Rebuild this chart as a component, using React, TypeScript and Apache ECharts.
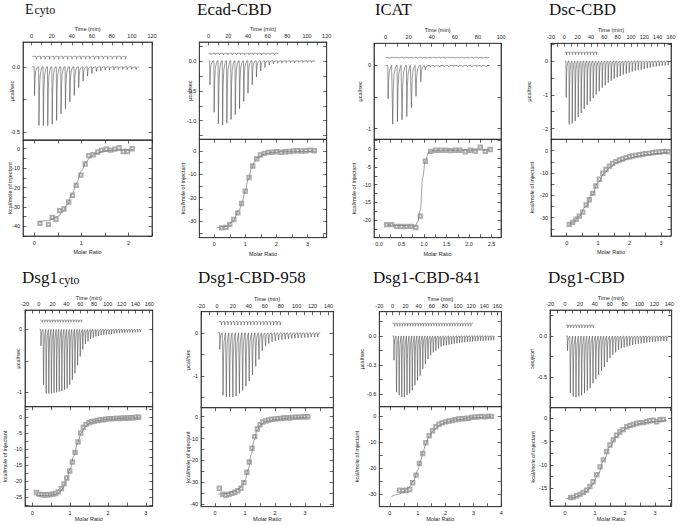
import React, { useEffect, useRef } from 'react';
import * as echarts from 'echarts';

// ================= DATA =================
// ---- Ecyto ----
const ecytoRun = [0.5, 107];
const ecytoTimes = [2.6, 7.0, 11.4, 15.8, 20.2, 24.6, 29.0, 33.4, 37.8, 42.2, 46.6, 51.0, 55.4, 59.8, 64.2, 68.6, 73.0, 77.4, 81.8, 86.2, 90.6, 95.0, 99.4, 103.8];
const ecytoPeaks = [-0.22, -0.45, -0.45, -0.45, -0.44, -0.41, -0.36, -0.32, -0.27, -0.22, -0.16, -0.11, -0.07, -0.05, -0.035, -0.03, -0.025, -0.025, -0.025, -0.02, -0.02, -0.02, -0.02, -0.02];
const ecytoCtrlRun = [0.7, 95.6];
const ecytoCtrlLevel = 0.08;
const ecytoCtrlDepth = -0.022;
const ecytoCtrlTimes = [4.3, 8.8, 13.2, 17.7, 22.1, 26.6, 31.0, 35.5, 39.9, 44.4, 48.8, 53.3, 57.7, 62.2, 66.6, 71.1, 75.5, 80.0, 84.4, 88.9, 93.3];
const ecytoRatio = [0.12, 0.30, 0.38, 0.46, 0.54, 0.63, 0.73, 0.81, 0.89, 0.99, 1.08, 1.16, 1.25, 1.35, 1.43, 1.53, 1.62, 1.71, 1.80, 1.89, 1.98, 2.08];
const ecytoHeat = [-38.5, -39.0, -35.4, -36.4, -31.9, -31.1, -27.5, -24.0, -18.9, -13.6, -7.9, -3.6, -3.1, -1.7, -0.7, -0.3, -0.7, -0.2, 0.5, -1.4, -1.4, 0.0];
const ecytoFitX = [0.1, 0.3, 0.5, 0.6, 0.7, 0.8, 0.9, 1.0, 1.1, 1.2, 1.3, 1.5, 1.7, 2.1];
const ecytoFitY = [-37.6, -37.0, -35.0, -32.6, -28.8, -23.5, -17.5, -11.5, -6.8, -4.0, -2.5, -1.2, -0.8, -0.5];
const ecytoTimeLabels = [0, 20, 40, 60, 80, 100, 120];
const ecytoPowerLabels = [0, -0.5];
const ecytoHeatLabels = [0, -10, -20, -30, -40];
const ecytoRatioLabels = [0, 1, 2];

// ---- Ecad-CBD ----
const ecadRun = [0, 106.6];
const ecadTimes = [1.0, 5.3, 9.6, 13.9, 18.2, 22.5, 26.8, 31.1, 35.4, 39.7, 44.0, 48.3, 52.6, 56.9, 61.2, 65.5, 69.8, 74.1, 78.4, 82.7, 87.0, 91.3, 95.6, 99.9, 104.2];
const ecadPeaks = [-0.40, -0.86, -1.05, -1.07, -1.04, -0.98, -0.9, -0.8, -0.68, -0.54, -0.4, -0.27, -0.17, -0.11, -0.07, -0.05, -0.04, -0.035, -0.03, -0.03, -0.03, -0.025, -0.025, -0.025, -0.025];
const ecadCtrlRun = [0, 71];
const ecadCtrlLevel = 0.127;
const ecadCtrlDepth = -0.025;
const ecadCtrlTimes = [2.0, 6.3, 10.6, 14.9, 19.2, 23.5, 27.8, 32.1, 36.4, 40.7, 45.0, 49.3, 53.6, 57.9, 62.2, 66.5];
const ecadRatio = [0.24, 0.38, 0.5, 0.63, 0.76, 0.88, 1.0, 1.12, 1.24, 1.37, 1.49, 1.61, 1.74, 1.87, 2.01, 2.15, 2.29, 2.42, 2.55, 2.68, 2.82, 2.95, 3.09, 3.22];
const ecadHeat = [-32.9, -32.7, -31.4, -29.3, -26.5, -22.5, -17.2, -11.4, -6.5, -3.4, -1.8, -1.1, -0.7, -0.6, -0.4, -0.6, -0.4, -0.3, -0.1, 0.0, -0.1, 0.0, 0.3, 0.0];
const ecadFitX = [0.08, 0.4, 0.6, 0.8, 0.9, 1.0, 1.1, 1.2, 1.3, 1.4, 1.6, 1.8, 2.2, 3.25];
const ecadFitY = [-32.9, -32.3, -30.0, -25.5, -21.8, -17.0, -12.0, -7.6, -4.6, -2.9, -1.4, -0.8, -0.4, -0.2];
const ecadTimeLabels = [0, 20, 40, 60, 80, 100, 120];
const ecadPowerLabels = [0, -0.5, -1.0];
const ecadHeatLabels = [0, -10, -20, -30];
const ecadRatioLabels = [0, 1, 2, 3];

// ---- ICAT ----
const icatRun = [0, 88];
const icatTimes = [1.9, 5.9, 10.0, 14.0, 18.1, 22.1, 26.1, 30.2, 34.2, 38.3, 42.3, 46.3, 50.4, 54.4, 58.5, 62.5, 66.5, 70.6, 74.6, 78.7, 82.7, 86.7];
const icatPeaks = [-0.53, -0.93, -0.89, -0.86, -0.81, -0.67, -0.49, -0.26, -0.07, -0.03, -0.025, -0.025, -0.02, -0.02, -0.02, -0.02, -0.02, -0.02, -0.02, -0.02, -0.02, -0.02];
const icatCtrlRun = [0, 90];
const icatCtrlLevel = 0.127;
const icatCtrlDepth = -0.015;
const icatCtrlTimes = [3.0, 7.0, 11.1, 15.1, 19.2, 23.2, 27.2, 31.3, 35.3, 39.4, 43.4, 47.4, 51.5, 55.5, 59.6, 63.6, 67.6, 71.7, 75.7, 79.8, 83.8, 87.8];
const icatRatio = [0.17, 0.28, 0.39, 0.50, 0.61, 0.72, 0.82, 0.92, 1.03, 1.15, 1.26, 1.37, 1.48, 1.59, 1.70, 1.80, 1.92, 2.03, 2.14, 2.25, 2.36, 2.47];
const icatHeat = [-21.3, -21.3, -21.8, -21.8, -21.8, -21.8, -22.1, -18.9, -3.4, -0.6, -0.3, -0.3, -0.3, -0.4, -0.3, -0.3, -0.7, -0.3, -0.5, 0.6, -0.6, -0.1];
const icatFitX = [0.17, 0.7, 0.8, 0.86, 0.92, 0.97, 1.03, 1.1, 1.2, 1.5, 2.47];
const icatFitY = [-21.4, -21.6, -21.8, -20.5, -17.0, -8.0, -3.3, -0.9, -0.4, -0.3, -0.2];
const icatTimeLabels = [0, 20, 40, 60, 80, 100];
const icatPowerLabels = [0, -1];
const icatHeatLabels = [0, -5, -10, -15, -20];
const icatRatioLabels = [0, 0.5, 1.0, 1.5, 2.0, 2.5];

// ---- Dsc-CBD ----
const dscRun = [1, 157.5];
const dscTimes = [2.5, 7.0, 11.5, 16.0, 20.5, 25.0, 29.5, 34.0, 38.5, 43.0, 47.5, 52.0, 56.5, 61.0, 65.5, 70.0, 74.5, 79.0, 83.5, 88.0, 92.5, 97.0, 101.5, 106.0, 110.5, 115.0, 119.5, 124.0, 128.5, 133.0, 137.5, 142.0, 146.5, 151.0, 155.5];
const dscPeaks = [-1.08, -1.88, -1.85, -1.78, -1.66, -1.54, -1.42, -1.30, -1.2, -1.09, -0.99, -0.89, -0.79, -0.72, -0.64, -0.58, -0.52, -0.48, -0.44, -0.4, -0.37, -0.34, -0.31, -0.28, -0.26, -0.25, -0.23, -0.21, -0.19, -0.17, -0.16, -0.15, -0.14, -0.13, -0.12];
const dscCtrlRun = [1, 51];
const dscCtrlLevel = 0.27;
const dscCtrlDepth = -0.08;
const dscCtrlTimes = [3.0, 7.5, 12.0, 16.5, 21.0, 25.5, 30.0, 34.5, 39.0, 43.5, 48.0];
const dscRatio = [0.08, 0.19, 0.3, 0.4, 0.51, 0.62, 0.72, 0.83, 0.93, 1.04, 1.15, 1.25, 1.36, 1.46, 1.57, 1.68, 1.78, 1.89, 2.0, 2.1, 2.2, 2.31, 2.42, 2.52, 2.63, 2.74, 2.84, 2.95, 3.05, 3.16, 3.24];
const dscHeat = [-33.0, -32.1, -30.7, -29.3, -27.5, -24.3, -22.0, -19.1, -15.8, -12.8, -10.1, -8.4, -6.9, -5.7, -4.9, -4.2, -3.7, -3.1, -2.7, -2.4, -2.1, -1.8, -1.6, -1.3, -1.2, -0.9, -0.7, -0.6, -0.4, -0.3, -0.5];
const dscFitX = [0.08, 0.2, 0.4, 0.6, 0.8, 1.0, 1.2, 1.4, 1.6, 1.8, 2.0, 2.2, 2.5, 2.8, 3.24];
const dscFitY = [-33.2, -32.0, -29.4, -25.0, -19.8, -14.2, -10.0, -7.2, -5.4, -4.2, -3.3, -2.6, -1.9, -1.3, -0.7];
const dscTimeLabels = [-20, 0, 20, 40, 60, 80, 100, 120, 140, 160];
const dscPowerLabels = [0, -1, -2];
const dscHeatLabels = [0, -10, -20, -30];
const dscRatioLabels = [0, 1, 2, 3];

// ---- Dsg1cyto ----
const dsgRun = [1, 150];
const dsgTimes = [2.8, 6.6, 10.4, 14.2, 18.0, 21.8, 25.5, 29.3, 33.1, 36.9, 40.7, 44.5, 48.3, 52.1, 55.9, 59.7, 63.4, 67.2, 71.0, 74.8, 78.6, 82.4, 86.2, 90.0, 93.8, 97.6, 101.3, 105.1, 108.9, 112.7, 116.5, 120.3, 124.1, 127.9, 131.7, 135.5, 139.2, 143.0, 146.8];
const dsgPeaks = [-0.26, -0.88, -1.02, -1.02, -1.02, -1.01, -1.0, -0.99, -0.98, -0.96, -0.94, -0.88, -0.8, -0.7, -0.57, -0.43, -0.32, -0.23, -0.19, -0.15, -0.13, -0.11, -0.1, -0.09, -0.085, -0.08, -0.075, -0.07, -0.065, -0.06, -0.06, -0.055, -0.055, -0.05, -0.05, -0.05, -0.045, -0.045, -0.045];
const dsgCtrlRun = [2.4, 63];
const dsgCtrlLevel = 0.15;
const dsgCtrlDepth = -0.035;
const dsgCtrlTimes = [4.5, 8.3, 12.1, 15.9, 19.7, 23.5, 27.3, 31.1, 34.9, 38.7, 42.5, 46.3, 50.1, 53.9, 57.7, 61.5];
const dsgRatio = [0.11, 0.18, 0.26, 0.33, 0.40, 0.48, 0.55, 0.62, 0.69, 0.77, 0.84, 0.91, 0.99, 1.06, 1.13, 1.21, 1.28, 1.35, 1.42, 1.50, 1.57, 1.64, 1.72, 1.79, 1.86, 1.93, 2.01, 2.08, 2.15, 2.23, 2.30, 2.37, 2.45, 2.52, 2.59, 2.66, 2.74, 2.81];
const dsgHeat = [-23.5, -24.0, -24.2, -24.3, -24.2, -24.1, -24.0, -23.8, -23.3, -22.3, -20.8, -19.0, -16.8, -14.0, -11.0, -7.8, -5.0, -3.2, -2.3, -1.8, -1.5, -1.3, -1.1, -0.9, -0.9, -0.7, -0.6, -0.5, -0.5, -0.4, -0.5, -0.3, -0.4, -0.3, -0.2, -0.3, -0.1, -0.1];
const dsgFitX = [0.1, 0.4, 0.6, 0.7, 0.8, 0.9, 1.0, 1.1, 1.2, 1.3, 1.4, 1.5, 1.7, 2.0, 2.4, 2.85];
const dsgFitY = [-24.5, -24.4, -24.1, -23.6, -22.3, -19.8, -16.3, -12.0, -8.0, -4.8, -3.0, -2.0, -1.2, -0.7, -0.4, -0.2];
const dsgTimeLabels = [-20, 0, 20, 40, 60, 80, 100, 120, 140, 160];
const dsgPowerLabels = [0, -1];
const dsgHeatLabels = [0, -5, -10, -15, -20, -25];
const dsgRatioLabels = [0, 1, 2, 3];

// ---- Dsg1-CBD-958 ----
const d958Run = [1, 130];
const d958Times = [3.3, 7.4, 11.5, 15.6, 19.7, 23.8, 27.9, 32.0, 36.1, 40.2, 44.3, 48.4, 52.5, 56.6, 60.7, 64.8, 68.9, 73.0, 77.1, 81.2, 85.3, 89.4, 93.5, 97.6, 101.7, 105.8, 109.9, 114.0, 118.1, 122.2, 126.3];
const d958Peaks = [-0.39, -1.45, -1.49, -1.49, -1.49, -1.47, -1.41, -1.34, -1.24, -1.12, -0.98, -0.78, -0.62, -0.42, -0.31, -0.25, -0.21, -0.19, -0.17, -0.16, -0.15, -0.14, -0.13, -0.13, -0.12, -0.12, -0.11, -0.11, -0.1, -0.1, -0.1];
const d958CtrlRun = [2, 81];
const d958CtrlLevel = 0.26;
const d958CtrlDepth = -0.08;
const d958CtrlTimes = [5.3, 9.4, 13.5, 17.6, 21.7, 25.8, 29.9, 34.0, 38.1, 42.2, 46.3, 50.4, 54.5, 58.6, 62.7, 66.8, 70.9, 75.0, 79.1];
const d958Ratio = [0.14, 0.26, 0.36, 0.46, 0.56, 0.66, 0.76, 0.86, 0.96, 1.06, 1.14, 1.23, 1.32, 1.41, 1.5, 1.59, 1.69, 1.79, 1.89, 1.99, 2.09, 2.19, 2.29, 2.39, 2.49, 2.59, 2.69, 2.79, 2.89, 2.99, 3.09];
const d958Heat = [-32.7, -35.4, -35.9, -35.4, -35.0, -34.5, -33.8, -32.7, -30.1, -25.4, -20.7, -14.4, -9.1, -5.6, -3.7, -2.4, -2.0, -1.5, -1.2, -1.1, -0.9, -0.8, -0.6, -0.5, -0.6, -0.3, -0.2, -0.2, -0.2, 0.0, 0.0];
const d958FitX = [0.1, 0.4, 0.6, 0.8, 0.9, 1.0, 1.1, 1.2, 1.3, 1.4, 1.5, 1.7, 2.0, 2.5, 3.1];
const d958FitY = [-35.4, -35.1, -34.4, -33.0, -31.4, -28.8, -24.3, -17.5, -10.8, -6.2, -3.8, -2.2, -1.3, -0.6, -0.2];
const d958TimeLabels = [-20, 0, 20, 40, 60, 80, 100, 120, 140];
const d958PowerLabels = [0, -1];
const d958HeatLabels = [0, -10, -20, -30, -40];
const d958RatioLabels = [0, 1, 2, 3];

// ---- Dsg1-CBD-841 ----
const d841Run = [0, 157];
const d841Times = [2, 6, 10, 14, 18, 22, 26, 30, 34, 38, 42, 46, 50, 54, 58, 62, 66, 70, 74, 78, 82, 86, 90, 94, 98, 102, 106, 110, 114, 118, 122, 126, 130, 134, 138, 142, 146, 150, 154];
const d841Peaks = [-0.25, -0.58, -0.61, -0.63, -0.63, -0.61, -0.59, -0.56, -0.51, -0.46, -0.41, -0.34, -0.29, -0.24, -0.2, -0.17, -0.15, -0.13, -0.11, -0.1, -0.095, -0.09, -0.085, -0.08, -0.075, -0.07, -0.068, -0.065, -0.062, -0.06, -0.058, -0.055, -0.053, -0.05, -0.05, -0.048, -0.046, -0.045, -0.044];
const d841CtrlRun = [0, 123];
const d841CtrlLevel = 0.13;
const d841CtrlDepth = -0.03;
const d841CtrlTimes = [3, 7, 11, 15, 19, 23, 27, 31, 35, 39, 43, 47, 51, 55, 59, 63, 67, 71, 75, 79, 83, 87, 91, 95, 99, 103, 107, 111, 115, 119];
const d841Ratio = [0.35, 0.47, 0.59, 0.71, 0.82, 0.94, 1.06, 1.18, 1.29, 1.41, 1.53, 1.65, 1.76, 1.88, 2.0, 2.12, 2.24, 2.35, 2.47, 2.59, 2.71, 2.82, 2.94, 3.06, 3.18, 3.29, 3.41, 3.53, 3.65];
const d841Heat = [-28.4, -28.6, -28.4, -28.1, -25.5, -22.6, -18.1, -14.3, -10.2, -7.5, -5.6, -4.1, -3.1, -2.6, -2.2, -1.9, -1.7, -1.4, -1.1, -1.0, -0.9, -0.8, -0.5, -0.4, -0.3, -0.1, -0.3, -0.1, -0.1];
const d841FitX = [0.05, 0.3, 0.5, 0.7, 0.85, 1.0, 1.1, 1.2, 1.3, 1.4, 1.6, 1.8, 2.0, 2.4, 3.0, 3.65];
const d841FitY = [-30.8, -30.0, -29.0, -27.2, -24.8, -20.8, -17.0, -13.3, -10.2, -7.8, -5.0, -3.4, -2.4, -1.4, -0.6, -0.2];
const d841TimeLabels = [-20, 0, 20, 40, 60, 80, 100, 120, 140, 160];
const d841PowerLabels = [0, -0.3, -0.6];
const d841HeatLabels = [0, -10, -20, -30];
const d841RatioLabels = [0, 1, 2, 3, 4];

// ---- Dsg1-CBD ----
const dcbdRun = [1.3, 140];
const dcbdTimes = [3.1, 6.9, 10.7, 14.5, 18.3, 22.1, 25.9, 29.7, 33.5, 37.3, 41.1, 44.9, 48.7, 52.5, 56.3, 60.1, 63.9, 67.7, 71.5, 75.3, 79.1, 82.9, 86.7, 90.5, 94.3, 98.1, 101.9, 105.7, 109.5, 113.3, 117.1, 120.9, 124.7, 128.5, 132.3, 136.1];
const dcbdPeaks = [-0.18, -0.70, -0.74, -0.75, -0.74, -0.73, -0.70, -0.67, -0.64, -0.58, -0.53, -0.48, -0.43, -0.38, -0.32, -0.27, -0.23, -0.2, -0.17, -0.15, -0.14, -0.13, -0.12, -0.11, -0.1, -0.095, -0.09, -0.085, -0.08, -0.075, -0.07, -0.068, -0.065, -0.063, -0.06, -0.06];
const dcbdCtrlRun = [1.3, 40];
const dcbdCtrlLevel = 0.135;
const dcbdCtrlDepth = -0.035;
const dcbdCtrlTimes = [3.5, 7.3, 11.1, 14.9, 18.7, 22.5, 26.3, 30.1, 33.9, 37.7];
const dcbdRatio = [0.19, 0.28, 0.39, 0.5, 0.61, 0.72, 0.83, 0.94, 1.06, 1.17, 1.28, 1.39, 1.5, 1.61, 1.72, 1.83, 1.94, 2.06, 2.17, 2.28, 2.39, 2.5, 2.61, 2.72, 2.83, 2.94, 3.06, 3.17, 3.28];
const dcbdHeat = [-17.0, -16.9, -16.6, -16.3, -15.9, -15.4, -14.6, -13.6, -12.1, -10.4, -8.9, -7.1, -5.7, -4.6, -3.6, -2.9, -2.4, -1.8, -1.5, -1.3, -1.1, -0.9, -0.9, -0.7, -0.5, -0.4, -0.7, -0.3, -0.2];
const dcbdFitX = [0.05, 0.3, 0.5, 0.7, 0.9, 1.1, 1.3, 1.5, 1.7, 1.9, 2.1, 2.4, 2.8, 3.4];
const dcbdFitY = [-17.2, -17.0, -16.5, -15.7, -14.3, -12.0, -8.9, -6.0, -4.0, -2.7, -1.9, -1.2, -0.8, -0.4];
const dcbdTimeLabels = [-20, 0, 20, 40, 60, 80, 100, 120, 140];
const dcbdPowerLabels = [0, -0.5];
const dcbdHeatLabels = [0, -5, -10, -15];
const dcbdRatioLabels = [0, 1, 2, 3];

// ================= LAYOUT =================
type Lay = {
  x0: number; x1: number; yT: number; yM: number; yB: number;
  time: number[]; power: number[]; heat: number[]; ratio: number[];
  powerDec: number; ratioDec: number;
  gapP: number; gapH: number; rotP: number; timeGap: number; ratioGap: number;
  titleX: number; titleY: number; mainSize: number;
};

const panels = [
  { title: '{a|E}{b|cyto}', run: ecytoRun, times: ecytoTimes, peaks: ecytoPeaks, ctrlRun: ecytoCtrlRun, ctrlLevel: ecytoCtrlLevel, ctrlDepth: ecytoCtrlDepth, ctrlTimes: ecytoCtrlTimes, ratio: ecytoRatio, heat: ecytoHeat, fitX: ecytoFitX, fitY: ecytoFitY, tl: ecytoTimeLabels, pl: ecytoPowerLabels, hl: ecytoHeatLabels, rl: ecytoRatioLabels,
    lay: { x0: 23, x1: 152, yT: 42, yM: 140, yB: 236, time: [-8.6, 120], power: [-0.56, 0.19], heat: [-45, 4.5], ratio: [-0.24, 2.5], powerDec: 1, ratioDec: 0, gapP: 8, gapH: 10, rotP: 90, timeGap: 10, ratioGap: 13, titleX: 25, titleY: 9, mainSize: 14 } as Lay },
  { title: 'Ecad-CBD', run: ecadRun, times: ecadTimes, peaks: ecadPeaks, ctrlRun: ecadCtrlRun, ctrlLevel: ecadCtrlLevel, ctrlDepth: ecadCtrlDepth, ctrlTimes: ecadCtrlTimes, ratio: ecadRatio, heat: ecadHeat, fitX: ecadFitX, fitY: ecadFitY, tl: ecadTimeLabels, pl: ecadPowerLabels, hl: ecadHeatLabels, rl: ecadRatioLabels,
    lay: { x0: 199.3, x1: 326.7, yT: 42, yM: 139.3, yB: 237.7, time: [-9.5, 120], power: [-1.31, 0.315], heat: [-37.1, 4.9], ratio: [-0.48, 3.62], powerDec: 1, ratioDec: 0, gapP: 6, gapH: 13, rotP: 90, timeGap: 10, ratioGap: 13, titleX: 197, titleY: 9.5, mainSize: 17 } as Lay },
  { title: 'ICAT', run: icatRun, times: icatTimes, peaks: icatPeaks, ctrlRun: icatCtrlRun, ctrlLevel: icatCtrlLevel, ctrlDepth: icatCtrlDepth, ctrlTimes: icatCtrlTimes, ratio: icatRatio, heat: icatHeat, fitX: icatFitX, fitY: icatFitY, tl: icatTimeLabels, pl: icatPowerLabels, hl: icatHeatLabels, rl: icatRatioLabels,
    lay: { x0: 374, x1: 501, yT: 43.3, yM: 139.3, yB: 237.7, time: [-10, 100], power: [-1.17, 0.35], heat: [-25, 2.8], ratio: [-0.11, 2.71], powerDec: 0, ratioDec: 1, gapP: 11, gapH: 17.5, rotP: 90, timeGap: 10, ratioGap: 13, titleX: 375, titleY: 9.5, mainSize: 16.5 } as Lay },
  { title: 'Dsc-CBD', run: dscRun, times: dscTimes, peaks: dscPeaks, ctrlRun: dscCtrlRun, ctrlLevel: dscCtrlLevel, ctrlDepth: dscCtrlDepth, ctrlTimes: dscCtrlTimes, ratio: dscRatio, heat: dscHeat, fitX: dscFitX, fitY: dscFitY, tl: dscTimeLabels, pl: dscPowerLabels, hl: dscHeatLabels, rl: dscRatioLabels,
    lay: { x0: 551, x1: 671, yT: 43.3, yM: 139.3, yB: 236, time: [-20, 160], power: [-2.32, 0.53], heat: [-38.2, 5.1], ratio: [-0.5, 3.32], powerDec: 0, ratioDec: 0, gapP: 19.5, gapH: 16, rotP: 90, timeGap: 10, ratioGap: 13, titleX: 549, titleY: 9.5, mainSize: 17 } as Lay },
  { title: 'Dsg1{b|cyto}', run: dsgRun, times: dsgTimes, peaks: dsgPeaks, ctrlRun: dsgCtrlRun, ctrlLevel: dsgCtrlLevel, ctrlDepth: dsgCtrlDepth, ctrlTimes: dsgCtrlTimes, ratio: dsgRatio, heat: dsgHeat, fitX: dsgFitX, fitY: dsgFitY, tl: dsgTimeLabels, pl: dsgPowerLabels, hl: dsgHeatLabels, rl: dsgRatioLabels,
    lay: { x0: 25, x1: 152.7, yT: 310, yM: 406.7, yB: 506, time: [-20, 165], power: [-1.23, 0.31], heat: [-27.7, 3.2], ratio: [-0.19, 3.18], powerDec: 0, ratioDec: 0, gapP: 4, gapH: 17, rotP: 90, timeGap: 9.5, ratioGap: 9.5, titleX: 22, titleY: 277, mainSize: 17 } as Lay },
  { title: 'Dsg1-CBD-958', run: d958Run, times: d958Times, peaks: d958Peaks, ctrlRun: d958CtrlRun, ctrlLevel: d958CtrlLevel, ctrlDepth: d958CtrlDepth, ctrlTimes: d958CtrlTimes, ratio: d958Ratio, heat: d958Heat, fitX: d958FitX, fitY: d958FitY, tl: d958TimeLabels, pl: d958PowerLabels, hl: d958HeatLabels, rl: d958RatioLabels,
    lay: { x0: 201, x1: 333.3, yT: 311.7, yM: 407.7, yB: 506.7, time: [-20, 146], power: [-1.74, 0.49], heat: [-41.1, 4.1], ratio: [-0.47, 3.94], powerDec: 0, ratioDec: 0, gapP: 9.7, gapH: 10.3, rotP: 90, timeGap: 9.5, ratioGap: 9.5, titleX: 198, titleY: 277, mainSize: 17 } as Lay },
  { title: 'Dsg1-CBD-841', run: d841Run, times: d841Times, peaks: d841Peaks, ctrlRun: d841CtrlRun, ctrlLevel: d841CtrlLevel, ctrlDepth: d841CtrlDepth, ctrlTimes: d841CtrlTimes, ratio: d841Ratio, heat: d841Heat, fitX: d841FitX, fitY: d841FitY, tl: d841TimeLabels, pl: d841PowerLabels, hl: d841HeatLabels, rl: d841RatioLabels,
    lay: { x0: 379.3, x1: 501.3, yT: 311.7, yM: 406.7, yB: 506.7, time: [-20, 166], power: [-0.73, 0.25], heat: [-34.7, 3.6], ratio: [-0.38, 4.0], powerDec: 1, ratioDec: 0, gapP: 14.6, gapH: 19.6, rotP: 90, timeGap: 9.5, ratioGap: 9.5, titleX: 373, titleY: 277, mainSize: 17 } as Lay },
  { title: 'Dsg1-CBD', run: dcbdRun, times: dcbdTimes, peaks: dcbdPeaks, ctrlRun: dcbdCtrlRun, ctrlLevel: dcbdCtrlLevel, ctrlDepth: dcbdCtrlDepth, ctrlTimes: dcbdCtrlTimes, ratio: dcbdRatio, heat: dcbdHeat, fitX: dcbdFitX, fitY: dcbdFitY, tl: dcbdTimeLabels, pl: dcbdPowerLabels, hl: dcbdHeatLabels, rl: dcbdRatioLabels,
    lay: { x0: 550, x1: 671.7, yT: 310, yM: 407.7, yB: 506, time: [-20.1, 143.2], power: [-0.88, 0.32], heat: [-18.8, 2.3], ratio: [-0.5, 3.56], powerDec: 1, ratioDec: 0, gapP: 13.7, gapH: 13.7, rotP: -90, timeGap: 9.5, ratioGap: 9.5, titleX: 548, titleY: 277, mainSize: 17 } as Lay },
];

// ================= HELPERS =================
const FONT = 'Liberation Sans, Arial, sans-serif';
const SERIF = '"Liberation Serif", "Times New Roman", serif';
const INK = '#222';

function tickValues(labels: number[], min: number, max: number): number[] {
  const step = Math.abs(labels[1] - labels[0]) / 2;
  const out: number[] = [];
  const k0 = Math.ceil((min - labels[0]) / step - 1e-9);
  const k1 = Math.floor((max - labels[0]) / step + 1e-9);
  for (let k = k0; k <= k1; k++) out.push(+(labels[0] + k * step).toFixed(6));
  return out;
}

function fmt(v: number, dec: number): string {
  if (Math.abs(v) < 1e-9) return (0).toFixed(dec);
  return v.toFixed(dec);
}

function makeAxis(o: any) {
  const [min, max] = o.range;
  const ax: any = {
    type: 'value', gridIndex: o.grid, position: o.position, min, max,
    splitLine: { show: false },
    axisLine: { show: true, onZero: false, lineStyle: { color: '#333', width: 0.8 } },
    axisTick: { show: true, inside: true, length: 3.5, lineStyle: { color: '#222', width: 0.7 }, customValues: tickValues(o.labels, min, max) },
    axisLabel: o.showLabels ? {
      show: true, customValues: o.labels.filter((v: number) => v >= min - 1e-9 && v <= max + 1e-9),
      formatter: (v: number) => fmt(v, o.dec), fontSize: 5.5, color: INK, fontFamily: FONT, margin: o.margin ?? 3,
    } : { show: false },
  };
  if (o.name) {
    ax.name = o.name; ax.nameLocation = 'middle'; ax.nameGap = o.nameGap;
    ax.nameTextStyle = { fontSize: 5.5, color: INK, fontFamily: FONT };
    ax.nameMoveOverlap = false;
    if (o.nameRotate !== undefined) ax.nameRotate = o.nameRotate;
  }
  return ax;
}

function traceData(run: number[], times: number[], peaks: number[], level: number) {
  const pts: number[][] = [[run[0], level]];
  times.forEach((t, i) => {
    const d = peaks[i];
    pts.push([t, level], [t + 0.3, level + d], [t + 0.8, level + 0.4 * d], [t + 1.5, level + 0.15 * d], [t + 2.5, level + 0.05 * d], [t + 3.4, level]);
  });
  pts.push([run[1], level]);
  return pts;
}

function ctrlData(run: number[], times: number[], depth: number, level: number) {
  const pts: number[][] = [[run[0], level]];
  times.forEach((t) => {
    pts.push([t, level], [t + 0.3, level + depth], [t + 1.0, level + 0.25 * depth], [t + 2.0, level]);
  });
  pts.push([run[1], level]);
  return pts;
}

function buildOption() {
  const grid: any[] = [], xAxis: any[] = [], yAxis: any[] = [], series: any[] = [], graphic: any[] = [];
  panels.forEach((p) => {
    const L = p.lay;
    const w = L.x1 - L.x0;
    const gT = grid.length;
    grid.push({ left: L.x0, top: L.yT, width: w, height: L.yM - L.yT, show: true, borderColor: '#333', borderWidth: 0.8, backgroundColor: 'transparent' });
    const gB = grid.length;
    grid.push({ left: L.x0, top: L.yM, width: w, height: L.yB - L.yM, show: true, borderColor: '#333', borderWidth: 0.8, backgroundColor: 'transparent' });

    const xT = xAxis.length;
    xAxis.push(makeAxis({ grid: gT, position: 'top', range: L.time, labels: p.tl, dec: 0, showLabels: true, name: 'Time (min)', nameGap: L.timeGap, margin: 3 }));
    const yT = yAxis.length;
    yAxis.push(makeAxis({ grid: gT, position: 'left', range: L.power, labels: p.pl, dec: L.powerDec, showLabels: true, name: 'µcal/sec', nameGap: L.gapP, nameRotate: L.rotP, margin: 3 }));
    yAxis.push(makeAxis({ grid: gT, position: 'right', range: L.power, labels: p.pl, dec: 0, showLabels: false }));

    const xB = xAxis.length;
    xAxis.push(makeAxis({ grid: gB, position: 'bottom', range: L.ratio, labels: p.rl, dec: L.ratioDec, showLabels: true, name: 'Molar Ratio', nameGap: L.ratioGap, margin: 3.5 }));
    xAxis.push(makeAxis({ grid: gB, position: 'top', range: L.ratio, labels: p.rl, dec: 0, showLabels: false }));
    const yB = yAxis.length;
    yAxis.push(makeAxis({ grid: gB, position: 'left', range: L.heat, labels: p.hl, dec: 0, showLabels: true, name: 'kcal/mole of injectant', nameGap: L.gapH, margin: 3 }));
    yAxis.push(makeAxis({ grid: gB, position: 'right', range: L.heat, labels: p.hl, dec: 0, showLabels: false }));

    series.push({ type: 'line', xAxisIndex: xT, yAxisIndex: yT, data: ctrlData(p.ctrlRun, p.ctrlTimes, p.ctrlDepth, p.ctrlLevel), symbol: 'none', lineStyle: { width: 0.55, color: '#555' }, silent: true });
    series.push({ type: 'line', xAxisIndex: xT, yAxisIndex: yT, data: traceData(p.run, p.times, p.peaks, 0), symbol: 'none', lineStyle: { width: 0.55, color: '#444' }, silent: true });
    series.push({ type: 'line', xAxisIndex: xB, yAxisIndex: yB, data: p.fitX.map((x, i) => [x, p.fitY[i]]), symbol: 'none', smooth: 0.4, smoothMonotone: 'x', lineStyle: { width: 0.7, color: '#777' }, silent: true });
    series.push({ type: 'scatter', xAxisIndex: xB, yAxisIndex: yB, data: p.ratio.map((x, i) => [x, p.heat[i]]), symbol: 'emptyRect', symbolSize: 3.4, itemStyle: { color: '#999', borderColor: '#8a8a8a', borderWidth: 0.5 }, silent: true });

    graphic.push({
      type: 'text', x: L.titleX, y: L.titleY, silent: true,
      style: {
        text: p.title, fill: '#111', fontFamily: SERIF, fontSize: L.mainSize, fontWeight: 'normal', verticalAlign: 'middle',
        rich: {
          a: { fontFamily: SERIF, fontSize: 14, fill: '#111', verticalAlign: 'bottom' },
          b: { fontFamily: SERIF, fontSize: 12, fill: '#111', verticalAlign: 'bottom', padding: [0, 0, 0, 1] },
        },
      },
    });
  });
  return { animation: false, backgroundColor: '#fff', grid, xAxis, yAxis, series, graphic };
}

export default function App() {
  const ref = useRef<HTMLDivElement>(null);
  useEffect(() => {
    if (!ref.current) return;
    const chart = echarts.init(ref.current, undefined, { renderer: 'svg' });
    chart.setOption(buildOption() as any);
    return () => chart.dispose();
  }, []);
  return <div ref={ref} style={{ position: 'fixed', left: 0, top: 0, width: 685, height: 525, background: '#fff' }} />;
}
